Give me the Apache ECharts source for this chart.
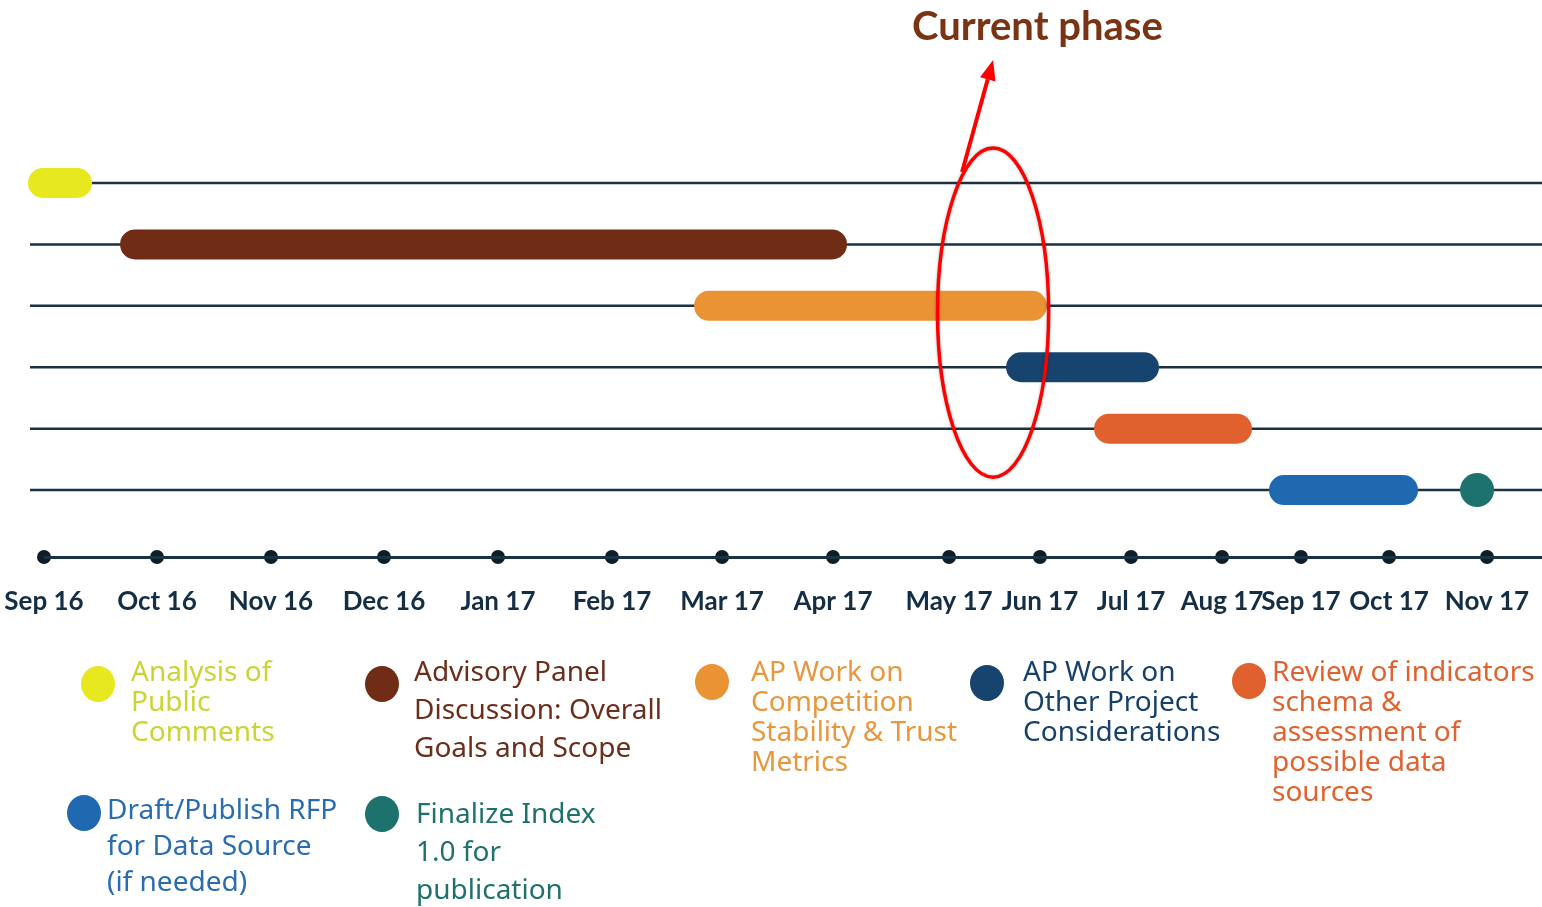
<!DOCTYPE html>
<html>
<head>
<meta charset="utf-8">
<title>Project timeline</title>
<script src="https://cdn.jsdelivr.net/npm/echarts@6.0.0/dist/echarts.min.js"></script>
<style>
  html, body { margin: 0; padding: 0; background: #fff; }
  #chart { width: 1542px; height: 907px; }
</style>
</head>
<body>
<div id="chart"></div>
<script>
// month markers, placed along the timeline as on the slide (0 = Sep 16, 100 = Nov 17)
var monthLabels = ['Sep 16', 'Oct 16', 'Nov 16', 'Dec 16', 'Jan 17', 'Feb 17', 'Mar 17', 'Apr 17',
    'May 17', 'Jun 17', 'Jul 17', 'Aug 17', 'Sep 17', 'Oct 17', 'Nov 17']
var monthPos = [0, 7.83, 15.73, 23.56, 31.46, 39.36, 46.99, 54.68, 62.72, 69.02, 75.33, 81.64, 87.11, 93.21, 100]

// tasks (same timeline units)
var taskNames = [
    'Analysis of\nPublic\nComments',
    'Advisory Panel\nDiscussion: Overall\nGoals and Scope',
    'AP Work on\nCompetition\nStability & Trust\nMetrics',
    'AP Work on\nOther Project\nConsiderations',
    'Review of indicators\nschema &\nassessment of\npossible data\nsources',
    'Draft/Publish RFP\nfor Data Source\n(if needed)',
    'Finalize Index\n1.0 for\npublication'
]
var taskRows = [0, 1, 2, 3, 4, 5, 5]
var taskStart = [-1.11, 5.27, 45.05, 66.67, 72.77, 84.89, 98.13]
var taskEnd = [3.33, 55.65, 69.51, 77.27, 83.71, 95.22, 100.49]
var taskColors = ['#e8e820', '#712c15', '#ea9334', '#16446f', '#e0612e', '#1f69b1', '#1e726e']
var textColors = ['#c8d534', '#6c2d1b', '#e8973c', '#17416b', '#e0622f', '#2a6cb1', '#1f716c']

var rows = [0, 1, 2, 3, 4, 5]
var axisRow = 6.09
var currentPhase = 65.77

var lineColor = '#1b3242'
var chart = echarts.init(document.getElementById('chart'))

function renderRowLine(params, api) {
    var y = api.coord([0, api.value(0)])[1]
    var cs = params.coordSys
    return {
        type: 'line',
        shape: { x1: cs.x, y1: y, x2: cs.x + cs.width, y2: y },
        style: { stroke: lineColor, lineWidth: 2.5 }
    }
}

function renderTask(params, api) {
    var a = api.coord([api.value(1), api.value(0)])
    var b = api.coord([api.value(2), api.value(0)])
    var w = b[0] - a[0]
    var h = w < 40 ? w : 30
    return {
        type: 'rect',
        shape: { x: a[0], y: a[1] - h / 2, width: w, height: h, r: h / 2 },
        style: { fill: api.visual('color') }
    }
}

chart.setOption({
    animation: false,
    title: {
        text: 'Current phase',
        left: 912,
        top: 7,
        padding: 0,
        textStyle: { fontFamily: 'Lato', fontWeight: 'bold', fontSize: 40, color: '#7a3313' }
    },
    grid: { left: 30, right: 0, top: 183, bottom: 350 },
    xAxis: { type: 'value', min: -0.97, max: 103.81, show: false },
    yAxis: { type: 'value', min: 0, max: axisRow, inverse: true, show: false },
    series: [
        {
            type: 'custom',
            silent: true,
            renderItem: renderRowLine,
            encode: { y: 0 },
            data: rows.map(function (r) { return [r] }),
            z: 1
        },
        {
            type: 'custom',
            silent: true,
            renderItem: renderTask,
            encode: { x: [1, 2], y: 0 },
            data: taskNames.map(function (n, i) {
                return {
                    name: n,
                    value: [taskRows[i], taskStart[i], taskEnd[i]],
                    itemStyle: { color: taskColors[i] }
                }
            }),
            z: 2
        },
        {
            type: 'scatter',
            silent: true,
            symbolSize: 14,
            itemStyle: { color: '#0e1d28', opacity: 1 },
            data: monthPos.map(function (p, i) {
                return { name: monthLabels[i], value: [p, axisRow] }
            }),
            label: {
                show: true,
                position: 'bottom',
                distance: 25,
                formatter: '{b}',
                fontFamily: 'Lato',
                fontWeight: 'bold',
                fontSize: 26,
                color: '#142e45'
            },
            markLine: {
                silent: true,
                symbol: 'none',
                label: { show: false },
                lineStyle: { color: lineColor, width: 3, type: 'solid', opacity: 1 },
                data: [[{ coord: [0, axisRow] }, { coord: [103.81, axisRow] }]]
            },
            z: 3
        }
    ]
})

// legend blocks: circle + multi-line label, laid out like the slide
var legendLayout = [
    { cx: 98, cy: 684, tx: 131, ty: 658, lh: 30 },
    { cx: 382, cy: 684, tx: 414, ty: 654, lh: 38 },
    { cx: 712, cy: 682, tx: 751, ty: 658, lh: 30 },
    { cx: 987, cy: 683, tx: 1023, ty: 658, lh: 30 },
    { cx: 1249, cy: 681, tx: 1272, ty: 658, lh: 30 },
    { cx: 84, cy: 813, tx: 107, ty: 793, lh: 36 },
    { cx: 382, cy: 814, tx: 416, ty: 796, lh: 38 }
]
var graphics = []
legendLayout.forEach(function (l, i) {
    graphics.push({
        type: 'ellipse',
        silent: true,
        shape: { cx: l.cx, cy: l.cy, rx: 17, ry: 18 },
        style: { fill: taskColors[i] }
    })
    graphics.push({
        type: 'text',
        silent: true,
        x: l.tx,
        y: l.ty,
        style: {
            text: taskNames[i],
            fontFamily: 'Noto Sans',
            fontSize: 28,
            lineHeight: l.lh,
            verticalAlign: 'top',
            fill: textColors[i]
        }
    })
})

// red ellipse around the current phase + arrow to the caption
var phaseTop = chart.convertToPixel({ gridIndex: 0 }, [currentPhase, -0.57])
var phaseBottom = chart.convertToPixel({ gridIndex: 0 }, [currentPhase, 4.79])
var phaseSide = chart.convertToPixel({ gridIndex: 0 }, [currentPhase + 3.85, 0])
var cx = phaseTop[0]
var cy = (phaseTop[1] + phaseBottom[1]) / 2
graphics.push({
    type: 'ellipse',
    silent: true,
    shape: { cx: cx, cy: cy, rx: phaseSide[0] - cx, ry: (phaseBottom[1] - phaseTop[1]) / 2 },
    style: { fill: 'none', stroke: '#ff0000', lineWidth: 3.5, shadowBlur: 3, shadowColor: 'rgba(0,0,0,0.3)' },
    z: 10
})
var tail = [cx - 31, phaseTop[1] + 24]
var tip = [cx, phaseTop[1] - 88]
var dx = tip[0] - tail[0], dy = tip[1] - tail[1]
var len = Math.sqrt(dx * dx + dy * dy)
var ux = dx / len, uy = dy / len
var base = [tip[0] - ux * 20, tip[1] - uy * 20]
graphics.push({
    type: 'line',
    silent: true,
    shape: { x1: tail[0], y1: tail[1], x2: base[0], y2: base[1] },
    style: { stroke: '#ff0000', lineWidth: 4 },
    z: 10
})
graphics.push({
    type: 'polygon',
    silent: true,
    shape: {
        points: [
            tip,
            [base[0] - uy * 8, base[1] + ux * 8],
            [base[0] + uy * 8, base[1] - ux * 8]
        ]
    },
    style: { fill: '#ff0000' },
    z: 10
})

chart.setOption({ graphic: graphics })
</script>
</body>
</html>
